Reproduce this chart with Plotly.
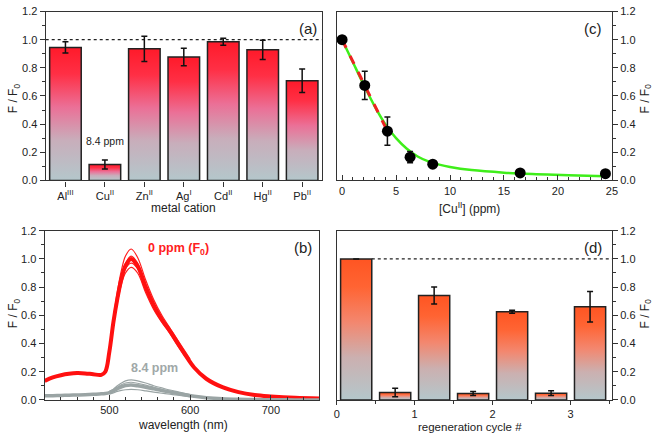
import plotly.graph_objects as go

# ---------------- data ----------------
# (a) selectivity
metals = ["Al<sup>III</sup>", "Cu<sup>II</sup>", "Zn<sup>II</sup>", "Ag<sup>I</sup>",
          "Cd<sup>II</sup>", "Hg<sup>II</sup>", "Pb<sup>II</sup>"]
metal_val = [0.945, 0.113, 0.935, 0.877, 0.985, 0.928, 0.708]
metal_err = [0.04, 0.032, 0.09, 0.062, 0.025, 0.068, 0.083]

# (b) spectra
wl = [420, 430, 440, 450, 460, 470, 480, 490, 495, 500, 505, 510, 515, 520, 527,
      535, 545, 555, 565, 575, 585, 595, 605, 620, 640, 660, 680, 700, 730, 760]
red_mean = [0.135, 0.16, 0.175, 0.185, 0.19, 0.188, 0.182, 0.178, 0.2, 0.34, 0.55, 0.72,
            0.86, 0.95, 1.0, 0.95, 0.8, 0.67, 0.57, 0.49, 0.4, 0.31, 0.23, 0.15, 0.09,
            0.055, 0.035, 0.025, 0.015, 0.01]
wl_pk = [500, 505, 510, 515, 520, 527, 535, 545, 555, 565, 575, 585, 600]
red_rep1 = [0.33, 0.53, 0.69, 0.82, 0.9, 0.94, 0.9, 0.76, 0.64, 0.55, 0.47, 0.38, 0.26]
red_rep2 = [0.34, 0.54, 0.71, 0.84, 0.93, 0.97, 0.93, 0.78, 0.66, 0.56, 0.48, 0.39, 0.27]
red_rep3 = [0.35, 0.56, 0.74, 0.88, 0.97, 1.02, 0.97, 0.82, 0.69, 0.58, 0.5, 0.41, 0.28]
red_rep4 = [0.36, 0.58, 0.77, 0.92, 1.02, 1.07, 1.01, 0.85, 0.71, 0.6, 0.51, 0.42, 0.29]
gray_mean = [0.03, 0.03, 0.032, 0.033, 0.035, 0.037, 0.04, 0.043, 0.046, 0.052, 0.065, 0.08,
             0.093, 0.102, 0.105, 0.1, 0.09, 0.078, 0.066, 0.055, 0.045, 0.035, 0.026, 0.016,
             0.008, 0.004, 0.002, 0.001, 0.0, 0.0]
gray_rep1 = [0.04, 0.05, 0.06, 0.067, 0.072, 0.075, 0.072, 0.064, 0.055, 0.047, 0.04, 0.033, 0.022]
gray_rep2 = [0.055, 0.07, 0.09, 0.108, 0.12, 0.125, 0.118, 0.105, 0.09, 0.075, 0.063, 0.052, 0.035]
gray_rep3 = [0.06, 0.076, 0.1, 0.12, 0.135, 0.142, 0.135, 0.12, 0.1, 0.085, 0.07, 0.057, 0.038]

# (c) titration
cu_ppm = [0, 2.1, 4.2, 6.3, 8.4, 16.5, 24.4]
cu_ratio = [1.0, 0.675, 0.35, 0.165, 0.115, 0.053, 0.048]
cu_err = [0.0, 0.1, 0.1, 0.04, 0.02, 0.01, 0.0]
fit_x = [0, 1, 2, 3, 4, 5, 6, 7, 8, 9, 10, 12, 15, 18, 21, 24.4]
fit_y = [1.0, 0.84, 0.68, 0.53, 0.40, 0.30, 0.225, 0.17, 0.135, 0.112, 0.095, 0.073,
         0.055, 0.044, 0.036, 0.03]
lin_x = [0, 4.2]
lin_y = [1.0, 0.35]

# (d) regeneration
regen_pos = [0.25, 0.75, 1.25, 1.75, 2.25, 2.75, 3.25]
regen_val = [1.0, 0.052, 0.74, 0.045, 0.625, 0.048, 0.66]
regen_err = [0.0, 0.03, 0.06, 0.014, 0.01, 0.017, 0.108]

# ---------------- figure ----------------
FONT = "Liberation Sans, Arial, sans-serif"
grad_a = [[0, "#b4c7cb"], [0.3, "#c8aebb"], [0.55, "#eb7097"], [0.8, "#ff2f45"], [1, "#ff1a2a"]]
grad_d = [[0, "#b4c7cb"], [0.3, "#cbb0b0"], [0.55, "#f3876f"], [0.8, "#ff6433"], [1, "#ff5522"]]

fig = go.Figure()


def add_bar(x0, x1, v, scale, xa, ya):
    fig.add_trace(go.Scatter(
        x=[x0, x1, x1, x0, x0], y=[0, 0, v, v, 0], mode="lines", fill="toself",
        fillgradient=dict(type="vertical", colorscale=scale),
        line=dict(color="#222222", width=1.5), xaxis=xa, yaxis=ya,
        showlegend=False, hoverinfo="skip"))


# (a)
fig.add_trace(go.Scatter(x=[-0.5, 6.5], y=[1, 1], mode="lines",
                         line=dict(color="#222", width=1.2, dash="dot"),
                         xaxis="x", yaxis="y", showlegend=False))
w_a = 0.8
for i, v in enumerate(metal_val):
    add_bar(i - w_a / 2, i + w_a / 2, v, grad_a, "x", "y")
fig.add_trace(go.Scatter(x=list(range(len(metals))), y=metal_val, mode="markers",
                         marker=dict(size=1, color="rgba(0,0,0,0)"),
                         error_y=dict(type="data", array=metal_err, color="#111",
                                      thickness=1.5, width=3),
                         xaxis="x", yaxis="y", showlegend=False))

# (b)
for rep in [red_rep1, red_rep2, red_rep3, red_rep4]:
    fig.add_trace(go.Scatter(x=wl_pk, y=rep, mode="lines", line=dict(color="#ff2020", width=1.2, shape="spline"),
                             xaxis="x2", yaxis="y2", showlegend=False))
fig.add_trace(go.Scatter(x=wl, y=red_mean, mode="lines", line=dict(color="#ff1010", width=4, shape="spline"),
                         xaxis="x2", yaxis="y2", showlegend=False))
for rep in [gray_rep1, gray_rep2, gray_rep3]:
    fig.add_trace(go.Scatter(x=wl_pk, y=rep, mode="lines", line=dict(color="#9aa4a4", width=1.2, shape="spline"),
                             xaxis="x2", yaxis="y2", showlegend=False))
fig.add_trace(go.Scatter(x=wl, y=gray_mean, mode="lines", line=dict(color="#9aa4a4", width=3.5, shape="spline"),
                         xaxis="x2", yaxis="y2", showlegend=False))

# (c)
fig.add_trace(go.Scatter(x=fit_x, y=fit_y, mode="lines", line=dict(color="#3fee1a", width=2.5, shape="spline"),
                         xaxis="x3", yaxis="y3", showlegend=False))
fig.add_trace(go.Scatter(x=lin_x, y=lin_y, mode="lines", line=dict(color="#ee2222", width=3, dash="dash"),
                         xaxis="x3", yaxis="y3", showlegend=False))
fig.add_trace(go.Scatter(x=cu_ppm, y=cu_ratio, mode="markers",
                         marker=dict(size=11, color="#000"),
                         error_y=dict(type="data", array=cu_err, color="#111", thickness=1.5, width=3),
                         xaxis="x3", yaxis="y3", showlegend=False))

# (d)
fig.add_trace(go.Scatter(x=[regen_pos[0] + 0.2, 3.53], y=[1, 1], mode="lines",
                         line=dict(color="#222", width=1.2, dash="dot"),
                         xaxis="x4", yaxis="y4", showlegend=False))
w_d = 0.4
for p, v in zip(regen_pos, regen_val):
    add_bar(p - w_d / 2, p + w_d / 2, v, grad_d, "x4", "y4")
fig.add_trace(go.Scatter(x=regen_pos, y=regen_val, mode="markers",
                         marker=dict(size=1, color="rgba(0,0,0,0)"),
                         error_y=dict(type="data", array=regen_err, color="#111", thickness=1.5, width=3),
                         xaxis="x4", yaxis="y4", showlegend=False))

W, H = 661, 438
def dx(a, b):
    return [a / W, b / W]
def dy(top, bot):
    return [1 - bot / H, 1 - top / H]
def px(x):
    return x / W
def py(y):
    return 1 - y / H

ax_common = dict(showline=True, linecolor="#333", linewidth=1.3, mirror=True,
                 showgrid=False, zeroline=False, tickfont=dict(size=11, color="#222"),
                 tickcolor="#333", tickwidth=1.2)
yax = dict(range=[0, 1.2], dtick=0.2, tickformat=".1f", ticks="outside", ticklen=5,
           minor=dict(dtick=0.1, ticks="outside", ticklen=3, tickcolor="#333"))

title_font = dict(size=12, color="#222")
fyf = "F / F<sub>0</sub>"


def ptext(text, x, y, angle=0, size=12):
    return dict(text=text, x=px(x), y=py(y), xref="paper", yref="paper", showarrow=False,
                xanchor="center", yanchor="middle", textangle=angle,
                font=dict(size=size, color="#222"))


fig.update_layout(
    width=W, height=H, margin=dict(l=0, r=0, t=0, b=0),
    paper_bgcolor="white", plot_bgcolor="white",
    font=dict(family=FONT, color="#222"),
    xaxis=dict(domain=dx(43.3, 323.3), range=[-0.5, 6.5], tickvals=list(range(7)), ticktext=metals,
               ticks="outside", ticklen=5, anchor="y", **ax_common),
    yaxis=dict(domain=dy(5.7, 179.3), anchor="x", **yax, **ax_common),
    xaxis2=dict(domain=dx(42.3, 320.7), range=[420, 760], dtick=100, ticks="inside", ticklen=5,
                anchor="y2", minor=dict(dtick=20, ticks="inside", ticklen=3, tickcolor="#333"),
                **ax_common),
    yaxis2=dict(domain=dy(231, 405), anchor="x2", **yax, **ax_common),
    xaxis3=dict(domain=dx(338.3, 617.3), range=[-0.5, 25], dtick=5, ticks="inside", ticklen=5,
                anchor="y3", minor=dict(dtick=1, ticks="inside", ticklen=3, tickcolor="#333"),
                **ax_common),
    yaxis3=dict(domain=dy(5.7, 179.3), side="right", anchor="x3", **yax, **ax_common),
    xaxis4=dict(domain=dx(338.3, 617.3), range=[0, 3.53], dtick=1, ticks="outside", ticklen=4,
                anchor="y4", minor=dict(dtick=0.5, ticks="outside", ticklen=2.5, tickcolor="#333"),
                **ax_common),
    yaxis4=dict(domain=dy(231, 405), side="right", anchor="x4", **yax, **ax_common),
    annotations=[
        dict(text="(a)", x=0.95, y=0.9, xref="x domain", yref="y domain", showarrow=False,
             xanchor="center", yanchor="middle", font=dict(size=15, color="#222")),
        dict(text="(b)", x=0.94, y=0.9, xref="x2 domain", yref="y2 domain", showarrow=False,
             xanchor="center", yanchor="middle", font=dict(size=15, color="#222")),
        dict(text="(c)", x=0.93, y=0.9, xref="x3 domain", yref="y3 domain", showarrow=False,
             xanchor="center", yanchor="middle", font=dict(size=15, color="#222")),
        dict(text="(d)", x=0.93, y=0.9, xref="x4 domain", yref="y4 domain", showarrow=False,
             xanchor="center", yanchor="middle", font=dict(size=15, color="#222")),
        dict(text="8.4 ppm", x=1, y=0.28, xref="x", yref="y", showarrow=False,
             font=dict(size=10.5, color="#222")),
        dict(text="<b>0 ppm (F<sub>0</sub>)</b>", x=545, y=1.07, xref="x2", yref="y2", showarrow=False,
             xanchor="left", font=dict(size=12.5, color="#ff2020")),
        dict(text="<b>8.4 ppm</b>", x=524, y=0.225, xref="x2", yref="y2", showarrow=False,
             xanchor="left", font=dict(size=12.5, color="#a0a8a8")),
        # axis titles
        ptext(fyf, 12, 95, -90),
        ptext(fyf, 12, 316, -90),
        ptext(fyf, 652, 95, -90),
        ptext(fyf, 652, 316, -90),
        ptext("metal cation", 183, 207.5),
        ptext("wavelength (nm)", 182, 430.5),
        ptext("[Cu<sup>II</sup>] (ppm)", 473, 207.5),
        ptext("regeneration cycle #", 473, 432.5, size=11.5),
    ],
)

fig.write_html("out.html", config={"displayModeBar": False},
               post_script="document.body.style.margin='0';document.body.style.overflow='hidden';")
